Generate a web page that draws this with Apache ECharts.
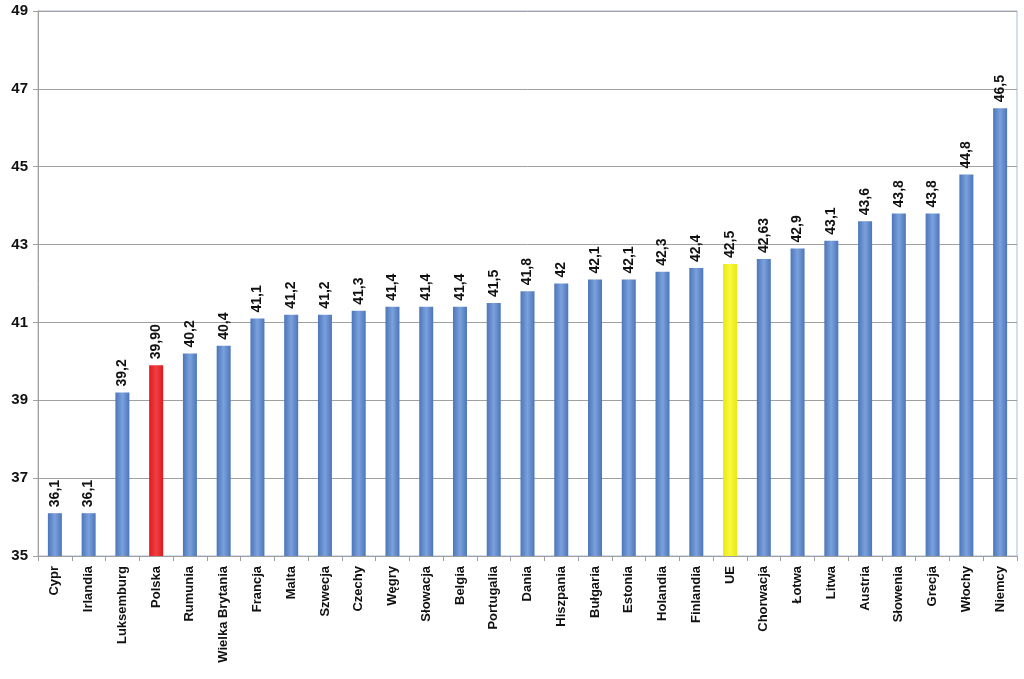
<!DOCTYPE html>
<html><head><meta charset="utf-8">
<script src="https://cdn.jsdelivr.net/npm/echarts@6/dist/echarts.min.js"></script>
<style>html,body{margin:0;padding:0;background:#fff}#c{width:1024px;height:679px}</style>
</head><body><div id="c"></div>
<script>
const categories = ['Cypr','Irlandia','Luksemburg','Polska','Rumunia','Wielka Brytania','Francja','Malta','Szwecja','Czechy','Węgry','Słowacja','Belgia','Portugalia','Dania','Hiszpania','Bułgaria','Estonia','Holandia','Finlandia','UE','Chorwacja','Łotwa','Litwa','Austria','Słowenia','Grecja','Włochy','Niemcy'];
const values = [36.1,36.1,39.2,39.90,40.2,40.4,41.1,41.2,41.2,41.3,41.4,41.4,41.4,41.5,41.8,42,42.1,42.1,42.3,42.4,42.5,42.63,42.9,43.1,43.6,43.8,43.8,44.8,46.5];
const valueLabels = ['36,1','36,1','39,2','39,90','40,2','40,4','41,1','41,2','41,2','41,3','41,4','41,4','41,4','41,5','41,8','42','42,1','42,1','42,3','42,4','42,5','42,63','42,9','43,1','43,6','43,8','43,8','44,8','46,5'];
const yTicks = [35,37,39,41,43,45,47,49];

function grad(c1,c2){return new echarts.graphic.LinearGradient(0,0,1,0,[{offset:0,color:c1},{offset:0.5,color:c2},{offset:1,color:c1}]);}
const blue = grad('#4c76ba','#7ba1dc');
const red = grad('#e01820','#f04040');
const yellow = grad('#e8e810','#f8f840');
const FONT = '"Liberation Sans", Arial, sans-serif';

const chart = echarts.init(document.getElementById('c'));
chart.setOption({
  animation:false,
  grid:{left:38,right:7,top:11,bottom:123,show:true,borderColor:'#a9bbdc',borderWidth:1},
  xAxis:{type:'category',data:categories,
    axisLine:{lineStyle:{color:'#a0a0a0'}},
    axisTick:{show:true,alignWithLabel:false,length:5,lineStyle:{color:'#a0a0a0'}},
    axisLabel:{rotate:90,interval:0,color:'#111',fontFamily:FONT,fontWeight:'bold',fontSize:13,margin:10}},
  yAxis:{type:'value',min:35,max:49,interval:2,
    axisLine:{show:true,lineStyle:{color:'#a0a0a0'}},
    axisTick:{show:true,length:5,lineStyle:{color:'#a0a0a0'}},
    splitLine:{lineStyle:{color:'#a0a0a0'}},
    axisLabel:{color:'#111',fontFamily:FONT,fontWeight:'bold',fontSize:15,margin:10}},
  series:[{type:'bar',barWidth:14,
    data:values.map((v,i)=>({value:v,itemStyle:{color:categories[i]==='Polska'?red:(categories[i]==='UE'?yellow:blue)}})),
    label:{show:true,position:'top',rotate:90,align:'left',verticalAlign:'middle',distance:6,
      color:'#111',fontFamily:FONT,fontWeight:'bold',fontSize:14,
      formatter:p=>valueLabels[p.dataIndex]}}]
});
</script></body></html>
